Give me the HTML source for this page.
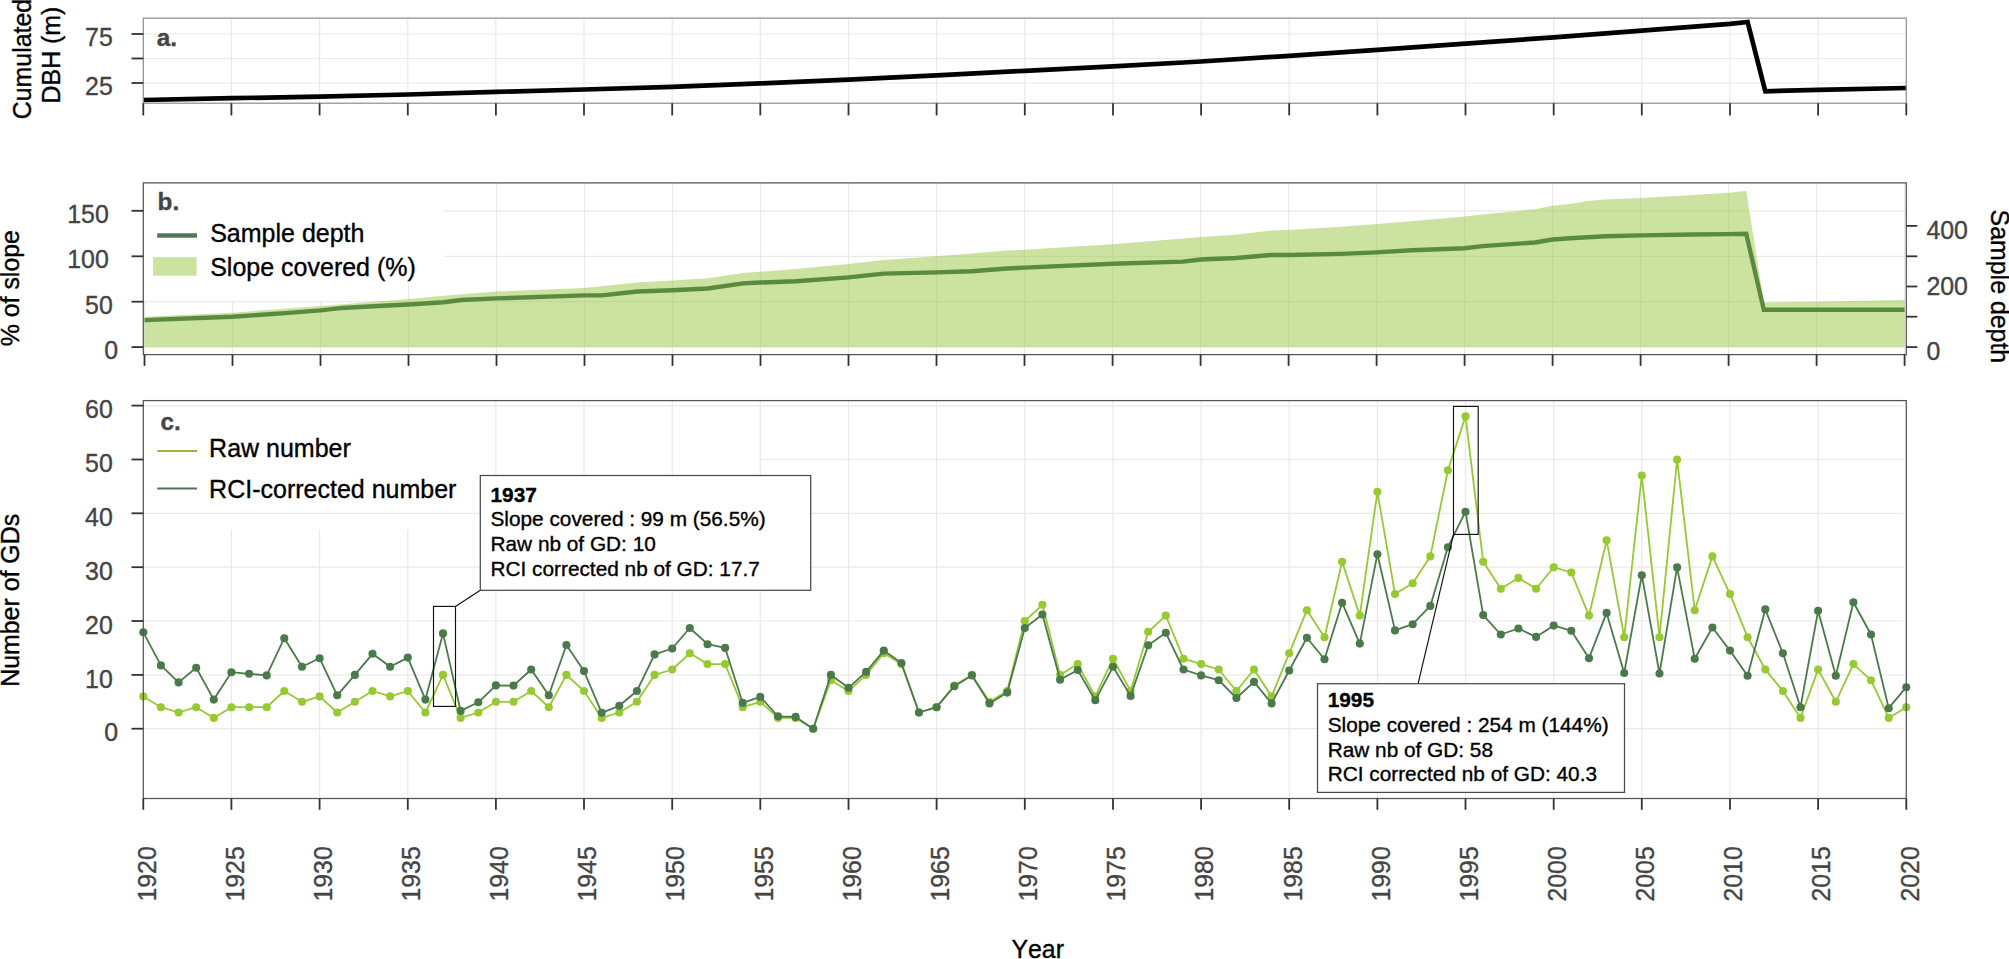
<!DOCTYPE html>
<html lang="en"><head><meta charset="utf-8"><title>Growth disturbances chart</title>
<style>html,body{margin:0;padding:0;background:#fff}svg{display:block}text{font-family:"Liberation Sans",Arial,Helvetica,sans-serif;font-size:24.9px;stroke-width:0.35px;paint-order:stroke fill;font-kerning:none}.lg{font-size:25px}.co text{font-size:20.8px}.tk{font-size:24.9px}.bl{font-size:24.3px}</style>
</head><body>
<svg width="2009" height="959" viewBox="0 0 2009 959">
<rect width="2009" height="959" fill="#fff"/>
<g id="panel-a">
<line x1="143.3" y1="34.0" x2="1906.3" y2="34.0" stroke="#e9e9e9" stroke-width="1.2"/>
<line x1="143.3" y1="58.5" x2="1906.3" y2="58.5" stroke="#e9e9e9" stroke-width="1.2"/>
<line x1="143.3" y1="83.0" x2="1906.3" y2="83.0" stroke="#e9e9e9" stroke-width="1.2"/>
<line x1="231.4" y1="18.1" x2="231.4" y2="103.2" stroke="#e9e9e9" stroke-width="1.2"/>
<line x1="319.6" y1="18.1" x2="319.6" y2="103.2" stroke="#e9e9e9" stroke-width="1.2"/>
<line x1="407.8" y1="18.1" x2="407.8" y2="103.2" stroke="#e9e9e9" stroke-width="1.2"/>
<line x1="495.9" y1="18.1" x2="495.9" y2="103.2" stroke="#e9e9e9" stroke-width="1.2"/>
<line x1="584.0" y1="18.1" x2="584.0" y2="103.2" stroke="#e9e9e9" stroke-width="1.2"/>
<line x1="672.2" y1="18.1" x2="672.2" y2="103.2" stroke="#e9e9e9" stroke-width="1.2"/>
<line x1="760.3" y1="18.1" x2="760.3" y2="103.2" stroke="#e9e9e9" stroke-width="1.2"/>
<line x1="848.5" y1="18.1" x2="848.5" y2="103.2" stroke="#e9e9e9" stroke-width="1.2"/>
<line x1="936.6" y1="18.1" x2="936.6" y2="103.2" stroke="#e9e9e9" stroke-width="1.2"/>
<line x1="1024.8" y1="18.1" x2="1024.8" y2="103.2" stroke="#e9e9e9" stroke-width="1.2"/>
<line x1="1113.0" y1="18.1" x2="1113.0" y2="103.2" stroke="#e9e9e9" stroke-width="1.2"/>
<line x1="1201.1" y1="18.1" x2="1201.1" y2="103.2" stroke="#e9e9e9" stroke-width="1.2"/>
<line x1="1289.2" y1="18.1" x2="1289.2" y2="103.2" stroke="#e9e9e9" stroke-width="1.2"/>
<line x1="1377.4" y1="18.1" x2="1377.4" y2="103.2" stroke="#e9e9e9" stroke-width="1.2"/>
<line x1="1465.5" y1="18.1" x2="1465.5" y2="103.2" stroke="#e9e9e9" stroke-width="1.2"/>
<line x1="1553.7" y1="18.1" x2="1553.7" y2="103.2" stroke="#e9e9e9" stroke-width="1.2"/>
<line x1="1641.8" y1="18.1" x2="1641.8" y2="103.2" stroke="#e9e9e9" stroke-width="1.2"/>
<line x1="1730.0" y1="18.1" x2="1730.0" y2="103.2" stroke="#e9e9e9" stroke-width="1.2"/>
<line x1="1818.1" y1="18.1" x2="1818.1" y2="103.2" stroke="#e9e9e9" stroke-width="1.2"/>
<polyline points="143.3,100.0 231.4,98.2 319.6,96.6 407.8,94.5 495.9,91.9 584.0,89.5 672.2,86.9 760.3,83.4 848.5,79.6 936.6,75.3 1024.8,70.8 1113.0,66.3 1201.1,61.5 1289.2,55.8 1377.4,49.8 1465.5,43.6 1553.7,37.3 1641.8,30.7 1730.0,23.8 1747.6,22.0 1765.3,91.3 1818.1,89.8 1906.3,88.0" fill="none" stroke="#000" stroke-width="4.7" stroke-linejoin="miter"/>
<rect x="143.3" y="18.1" width="1763.0" height="85.1" fill="none" stroke="#8c8c8c" stroke-width="1.2"/>
<line x1="131.5" y1="34.0" x2="143.3" y2="34.0" stroke="#333" stroke-width="1.8"/>
<line x1="131.5" y1="58.5" x2="143.3" y2="58.5" stroke="#333" stroke-width="1.8"/>
<line x1="131.5" y1="83.0" x2="143.3" y2="83.0" stroke="#333" stroke-width="1.8"/>
<line x1="143.3" y1="103.2" x2="143.3" y2="115.4" stroke="#333" stroke-width="1.8"/>
<line x1="231.4" y1="103.2" x2="231.4" y2="115.4" stroke="#333" stroke-width="1.8"/>
<line x1="319.6" y1="103.2" x2="319.6" y2="115.4" stroke="#333" stroke-width="1.8"/>
<line x1="407.8" y1="103.2" x2="407.8" y2="115.4" stroke="#333" stroke-width="1.8"/>
<line x1="495.9" y1="103.2" x2="495.9" y2="115.4" stroke="#333" stroke-width="1.8"/>
<line x1="584.0" y1="103.2" x2="584.0" y2="115.4" stroke="#333" stroke-width="1.8"/>
<line x1="672.2" y1="103.2" x2="672.2" y2="115.4" stroke="#333" stroke-width="1.8"/>
<line x1="760.3" y1="103.2" x2="760.3" y2="115.4" stroke="#333" stroke-width="1.8"/>
<line x1="848.5" y1="103.2" x2="848.5" y2="115.4" stroke="#333" stroke-width="1.8"/>
<line x1="936.6" y1="103.2" x2="936.6" y2="115.4" stroke="#333" stroke-width="1.8"/>
<line x1="1024.8" y1="103.2" x2="1024.8" y2="115.4" stroke="#333" stroke-width="1.8"/>
<line x1="1113.0" y1="103.2" x2="1113.0" y2="115.4" stroke="#333" stroke-width="1.8"/>
<line x1="1201.1" y1="103.2" x2="1201.1" y2="115.4" stroke="#333" stroke-width="1.8"/>
<line x1="1289.2" y1="103.2" x2="1289.2" y2="115.4" stroke="#333" stroke-width="1.8"/>
<line x1="1377.4" y1="103.2" x2="1377.4" y2="115.4" stroke="#333" stroke-width="1.8"/>
<line x1="1465.5" y1="103.2" x2="1465.5" y2="115.4" stroke="#333" stroke-width="1.8"/>
<line x1="1553.7" y1="103.2" x2="1553.7" y2="115.4" stroke="#333" stroke-width="1.8"/>
<line x1="1641.8" y1="103.2" x2="1641.8" y2="115.4" stroke="#333" stroke-width="1.8"/>
<line x1="1730.0" y1="103.2" x2="1730.0" y2="115.4" stroke="#333" stroke-width="1.8"/>
<line x1="1818.1" y1="103.2" x2="1818.1" y2="115.4" stroke="#333" stroke-width="1.8"/>
<line x1="1906.3" y1="103.2" x2="1906.3" y2="115.4" stroke="#333" stroke-width="1.8"/>
<text class="tk" x="112.8" y="46.2" text-anchor="end" fill="#444" stroke="#444">75</text>
<text class="tk" x="112.8" y="95.2" text-anchor="end" fill="#444" stroke="#444">25</text>
<text class="bl" x="156.8" y="45.5" font-weight="bold" fill="#454545" stroke="#454545">a.</text>
<text transform="translate(30.9,119.2) rotate(-90)" fill="#000" stroke="#000">Cumulated</text>
<text transform="translate(60.3,103.4) rotate(-90)" fill="#000" stroke="#000">DBH (m)</text>
</g>
<g id="panel-b">
<line x1="143.3" y1="210.8" x2="1906.3" y2="210.8" stroke="#e9e9e9" stroke-width="1.2"/>
<line x1="143.3" y1="256.3" x2="1906.3" y2="256.3" stroke="#e9e9e9" stroke-width="1.2"/>
<line x1="143.3" y1="301.7" x2="1906.3" y2="301.7" stroke="#e9e9e9" stroke-width="1.2"/>
<line x1="143.3" y1="347.1" x2="1906.3" y2="347.1" stroke="#e9e9e9" stroke-width="1.2"/>
<line x1="144.5" y1="182.9" x2="144.5" y2="354.6" stroke="#e9e9e9" stroke-width="1.2"/>
<line x1="232.5" y1="182.9" x2="232.5" y2="354.6" stroke="#e9e9e9" stroke-width="1.2"/>
<line x1="320.5" y1="182.9" x2="320.5" y2="354.6" stroke="#e9e9e9" stroke-width="1.2"/>
<line x1="408.5" y1="182.9" x2="408.5" y2="354.6" stroke="#e9e9e9" stroke-width="1.2"/>
<line x1="496.5" y1="182.9" x2="496.5" y2="354.6" stroke="#e9e9e9" stroke-width="1.2"/>
<line x1="584.5" y1="182.9" x2="584.5" y2="354.6" stroke="#e9e9e9" stroke-width="1.2"/>
<line x1="672.5" y1="182.9" x2="672.5" y2="354.6" stroke="#e9e9e9" stroke-width="1.2"/>
<line x1="760.5" y1="182.9" x2="760.5" y2="354.6" stroke="#e9e9e9" stroke-width="1.2"/>
<line x1="848.5" y1="182.9" x2="848.5" y2="354.6" stroke="#e9e9e9" stroke-width="1.2"/>
<line x1="936.5" y1="182.9" x2="936.5" y2="354.6" stroke="#e9e9e9" stroke-width="1.2"/>
<line x1="1024.5" y1="182.9" x2="1024.5" y2="354.6" stroke="#e9e9e9" stroke-width="1.2"/>
<line x1="1112.6" y1="182.9" x2="1112.6" y2="354.6" stroke="#e9e9e9" stroke-width="1.2"/>
<line x1="1200.6" y1="182.9" x2="1200.6" y2="354.6" stroke="#e9e9e9" stroke-width="1.2"/>
<line x1="1288.6" y1="182.9" x2="1288.6" y2="354.6" stroke="#e9e9e9" stroke-width="1.2"/>
<line x1="1376.6" y1="182.9" x2="1376.6" y2="354.6" stroke="#e9e9e9" stroke-width="1.2"/>
<line x1="1464.6" y1="182.9" x2="1464.6" y2="354.6" stroke="#e9e9e9" stroke-width="1.2"/>
<line x1="1552.6" y1="182.9" x2="1552.6" y2="354.6" stroke="#e9e9e9" stroke-width="1.2"/>
<line x1="1640.6" y1="182.9" x2="1640.6" y2="354.6" stroke="#e9e9e9" stroke-width="1.2"/>
<line x1="1728.6" y1="182.9" x2="1728.6" y2="354.6" stroke="#e9e9e9" stroke-width="1.2"/>
<line x1="1816.6" y1="182.9" x2="1816.6" y2="354.6" stroke="#e9e9e9" stroke-width="1.2"/>
<line x1="1904.6" y1="182.9" x2="1904.6" y2="354.6" stroke="#e9e9e9" stroke-width="1.2"/>
<polygon points="144.5,347.1 144.5,316.8 232.5,312.8 320.5,305.9 408.5,299.0 443.7,295.8 496.5,291.5 584.5,288.0 637.3,282.5 672.5,280.6 707.7,278.3 742.9,273.0 760.5,271.8 795.7,269.1 848.5,264.0 883.7,260.1 936.5,256.2 971.7,253.6 1006.9,250.6 1024.5,249.7 1112.6,244.3 1183.0,238.6 1200.6,237.1 1235.8,234.7 1271.0,230.6 1288.6,230.0 1341.4,226.7 1376.6,224.0 1411.8,221.3 1464.6,216.5 1482.2,214.4 1535.0,209.3 1552.6,205.7 1570.2,204.0 1587.8,201.0 1605.4,199.4 1640.6,197.9 1693.4,195.1 1728.6,192.7 1746.2,191.0 1763.8,302.4 1816.6,301.7 1904.6,300.0 1904.6,347.1" fill="#97c544" fill-opacity="0.5"/>
<rect x="143.3" y="182.9" width="300.7" height="101.6" fill="#fff"/>
<rect x="143.3" y="284" width="236.7" height="17" fill="#fff"/>
<polyline points="144.5,320.1 232.5,316.7 285.3,313.1 320.5,310.4 339.9,308.1 355.7,307.2 373.3,306.3 408.5,304.5 443.7,302.2 461.3,300.0 496.5,298.4 584.5,295.4 602.1,295.4 637.3,291.5 672.5,290.3 707.7,288.5 742.9,283.4 760.5,282.5 795.7,281.3 848.5,277.4 883.7,273.6 936.5,272.4 971.7,271.2 1006.9,268.5 1024.5,267.6 1112.6,263.7 1183.0,261.6 1200.6,259.5 1235.8,258.0 1271.0,255.0 1288.6,255.0 1341.4,253.9 1376.6,252.4 1411.8,250.3 1464.6,248.2 1482.2,246.1 1535.0,242.5 1552.6,239.5 1570.2,238.3 1605.4,236.3 1640.6,235.4 1693.4,234.5 1728.6,234.1 1746.2,233.8 1763.8,309.7 1904.6,309.7" fill="none" stroke="#5a8a40" stroke-width="4.4" stroke-linejoin="miter"/>
<rect x="143.3" y="182.9" width="1763.0" height="171.7" fill="none" stroke="#555" stroke-width="1.25"/>
<line x1="131.5" y1="210.8" x2="143.3" y2="210.8" stroke="#333" stroke-width="1.8"/>
<line x1="131.5" y1="256.3" x2="143.3" y2="256.3" stroke="#333" stroke-width="1.8"/>
<line x1="131.5" y1="301.7" x2="143.3" y2="301.7" stroke="#333" stroke-width="1.8"/>
<line x1="131.5" y1="347.1" x2="143.3" y2="347.1" stroke="#333" stroke-width="1.8"/>
<line x1="144.5" y1="354.6" x2="144.5" y2="365.9" stroke="#333" stroke-width="1.8"/>
<line x1="232.5" y1="354.6" x2="232.5" y2="365.9" stroke="#333" stroke-width="1.8"/>
<line x1="320.5" y1="354.6" x2="320.5" y2="365.9" stroke="#333" stroke-width="1.8"/>
<line x1="408.5" y1="354.6" x2="408.5" y2="365.9" stroke="#333" stroke-width="1.8"/>
<line x1="496.5" y1="354.6" x2="496.5" y2="365.9" stroke="#333" stroke-width="1.8"/>
<line x1="584.5" y1="354.6" x2="584.5" y2="365.9" stroke="#333" stroke-width="1.8"/>
<line x1="672.5" y1="354.6" x2="672.5" y2="365.9" stroke="#333" stroke-width="1.8"/>
<line x1="760.5" y1="354.6" x2="760.5" y2="365.9" stroke="#333" stroke-width="1.8"/>
<line x1="848.5" y1="354.6" x2="848.5" y2="365.9" stroke="#333" stroke-width="1.8"/>
<line x1="936.5" y1="354.6" x2="936.5" y2="365.9" stroke="#333" stroke-width="1.8"/>
<line x1="1024.5" y1="354.6" x2="1024.5" y2="365.9" stroke="#333" stroke-width="1.8"/>
<line x1="1112.6" y1="354.6" x2="1112.6" y2="365.9" stroke="#333" stroke-width="1.8"/>
<line x1="1200.6" y1="354.6" x2="1200.6" y2="365.9" stroke="#333" stroke-width="1.8"/>
<line x1="1288.6" y1="354.6" x2="1288.6" y2="365.9" stroke="#333" stroke-width="1.8"/>
<line x1="1376.6" y1="354.6" x2="1376.6" y2="365.9" stroke="#333" stroke-width="1.8"/>
<line x1="1464.6" y1="354.6" x2="1464.6" y2="365.9" stroke="#333" stroke-width="1.8"/>
<line x1="1552.6" y1="354.6" x2="1552.6" y2="365.9" stroke="#333" stroke-width="1.8"/>
<line x1="1640.6" y1="354.6" x2="1640.6" y2="365.9" stroke="#333" stroke-width="1.8"/>
<line x1="1728.6" y1="354.6" x2="1728.6" y2="365.9" stroke="#333" stroke-width="1.8"/>
<line x1="1816.6" y1="354.6" x2="1816.6" y2="365.9" stroke="#333" stroke-width="1.8"/>
<line x1="1904.6" y1="354.6" x2="1904.6" y2="365.9" stroke="#333" stroke-width="1.8"/>
<text class="tk" x="108.8" y="222.9" text-anchor="end" fill="#444" stroke="#444">150</text>
<text class="tk" x="108.8" y="268.4" text-anchor="end" fill="#444" stroke="#444">100</text>
<text class="tk" x="112.8" y="313.8" text-anchor="end" fill="#444" stroke="#444">50</text>
<text class="tk" x="118.0" y="359.2" text-anchor="end" fill="#444" stroke="#444">0</text>
<line x1="1906.3" y1="225.9" x2="1917.3" y2="225.9" stroke="#333" stroke-width="1.8"/>
<line x1="1906.3" y1="256.3" x2="1917.3" y2="256.3" stroke="#333" stroke-width="1.8"/>
<line x1="1906.3" y1="286.5" x2="1917.3" y2="286.5" stroke="#333" stroke-width="1.8"/>
<line x1="1906.3" y1="316.7" x2="1917.3" y2="316.7" stroke="#333" stroke-width="1.8"/>
<line x1="1906.3" y1="347.1" x2="1917.3" y2="347.1" stroke="#333" stroke-width="1.8"/>
<text class="tk" x="1926.4" y="238.6" fill="#444" stroke="#444">400</text>
<text class="tk" x="1926.4" y="295.0" fill="#444" stroke="#444">200</text>
<text class="tk" x="1926.4" y="359.6" fill="#444" stroke="#444">0</text>
<text transform="translate(1990.6,209.6) rotate(90)" fill="#000" stroke="#000">Sample depth</text>
<text class="bl" x="157.6" y="209.7" font-weight="bold" fill="#454545" stroke="#454545">b.</text>
<line x1="157.2" y1="235.4" x2="197" y2="235.4" stroke="#4f7a58" stroke-width="4.5"/>
<text class="lg" x="210.2" y="241.8" fill="#000" stroke="#000">Sample depth</text>
<rect x="153.1" y="257.2" width="43.5" height="18.5" fill="#97c544" fill-opacity="0.5"/>
<text class="lg" x="210.2" y="275.8" fill="#000" stroke="#000">Slope covered (%)</text>
<text transform="translate(19.4,346.3) rotate(-90)" fill="#000" stroke="#000">% of slope</text>
</g>
<g id="panel-c">
<line x1="231.4" y1="400.6" x2="231.4" y2="798.5" stroke="#e9e9e9" stroke-width="1.2"/>
<line x1="319.6" y1="400.6" x2="319.6" y2="798.5" stroke="#e9e9e9" stroke-width="1.2"/>
<line x1="407.8" y1="400.6" x2="407.8" y2="798.5" stroke="#e9e9e9" stroke-width="1.2"/>
<line x1="495.9" y1="400.6" x2="495.9" y2="798.5" stroke="#e9e9e9" stroke-width="1.2"/>
<line x1="584.0" y1="400.6" x2="584.0" y2="798.5" stroke="#e9e9e9" stroke-width="1.2"/>
<line x1="672.2" y1="400.6" x2="672.2" y2="798.5" stroke="#e9e9e9" stroke-width="1.2"/>
<line x1="760.3" y1="400.6" x2="760.3" y2="798.5" stroke="#e9e9e9" stroke-width="1.2"/>
<line x1="848.5" y1="400.6" x2="848.5" y2="798.5" stroke="#e9e9e9" stroke-width="1.2"/>
<line x1="936.6" y1="400.6" x2="936.6" y2="798.5" stroke="#e9e9e9" stroke-width="1.2"/>
<line x1="1024.8" y1="400.6" x2="1024.8" y2="798.5" stroke="#e9e9e9" stroke-width="1.2"/>
<line x1="1113.0" y1="400.6" x2="1113.0" y2="798.5" stroke="#e9e9e9" stroke-width="1.2"/>
<line x1="1201.1" y1="400.6" x2="1201.1" y2="798.5" stroke="#e9e9e9" stroke-width="1.2"/>
<line x1="1289.2" y1="400.6" x2="1289.2" y2="798.5" stroke="#e9e9e9" stroke-width="1.2"/>
<line x1="1377.4" y1="400.6" x2="1377.4" y2="798.5" stroke="#e9e9e9" stroke-width="1.2"/>
<line x1="1465.5" y1="400.6" x2="1465.5" y2="798.5" stroke="#e9e9e9" stroke-width="1.2"/>
<line x1="1553.7" y1="400.6" x2="1553.7" y2="798.5" stroke="#e9e9e9" stroke-width="1.2"/>
<line x1="1641.8" y1="400.6" x2="1641.8" y2="798.5" stroke="#e9e9e9" stroke-width="1.2"/>
<line x1="1730.0" y1="400.6" x2="1730.0" y2="798.5" stroke="#e9e9e9" stroke-width="1.2"/>
<line x1="1818.1" y1="400.6" x2="1818.1" y2="798.5" stroke="#e9e9e9" stroke-width="1.2"/>
<rect x="143.3" y="400.6" width="326.7" height="128.9" fill="#fff"/>
<line x1="143.3" y1="405.6" x2="1903.3" y2="405.6" stroke="#e9e9e9" stroke-width="1.2"/>
<line x1="143.3" y1="513.3" x2="1903.3" y2="513.3" stroke="#e9e9e9" stroke-width="1.2"/>
<line x1="143.3" y1="567.2" x2="1903.3" y2="567.2" stroke="#e9e9e9" stroke-width="1.2"/>
<line x1="143.3" y1="621.0" x2="1903.3" y2="621.0" stroke="#e9e9e9" stroke-width="1.2"/>
<line x1="143.3" y1="674.9" x2="1903.3" y2="674.9" stroke="#e9e9e9" stroke-width="1.2"/>
<line x1="143.3" y1="728.7" x2="1903.3" y2="728.7" stroke="#e9e9e9" stroke-width="1.2"/>
<line x1="760.5" y1="459.5" x2="1903.3" y2="459.5" stroke="#e9e9e9" stroke-width="1.2"/>
<polyline points="143.3,696.4 160.9,707.2 178.6,712.5 196.2,707.2 213.8,717.9 231.4,707.2 249.1,707.2 266.7,707.2 284.3,691.0 302.0,701.8 319.6,696.4 337.2,712.5 354.9,701.8 372.5,691.0 390.1,696.4 407.8,691.0 425.4,712.5 443.0,674.9 460.6,717.9 478.3,712.5 495.9,701.8 513.5,701.8 531.2,691.0 548.8,707.2 566.4,674.9 584.0,691.0 601.7,717.9 619.3,712.5 636.9,701.8 654.6,674.9 672.2,669.5 689.8,653.3 707.5,664.1 725.1,664.1 742.7,707.2 760.3,701.8 778.0,717.9 795.6,717.9 813.2,728.7 830.9,680.2 848.5,691.0 866.1,674.9 883.8,653.3 901.4,664.1 919.0,712.5 936.6,707.2 954.3,685.6 971.9,674.9 989.5,701.8 1007.2,691.0 1024.8,621.0 1042.4,604.8 1060.1,674.9 1077.7,664.1 1095.3,696.4 1113.0,658.7 1130.6,691.0 1148.2,631.8 1165.8,615.6 1183.5,658.7 1201.1,664.1 1218.7,669.5 1236.4,691.0 1254.0,669.5 1271.6,696.4 1289.2,653.3 1306.9,610.2 1324.5,637.2 1342.1,561.8 1359.8,615.6 1377.4,491.8 1395.0,594.1 1412.7,583.3 1430.3,556.4 1447.9,470.2 1465.5,416.4 1483.2,561.8 1500.8,588.7 1518.4,577.9 1536.1,588.7 1553.7,567.2 1571.3,572.5 1589.0,615.6 1606.6,540.2 1624.2,637.2 1641.8,475.6 1659.5,637.2 1677.1,459.5 1694.7,610.2 1712.4,556.4 1730.0,594.1 1747.6,637.2 1765.3,669.5 1782.9,691.0 1800.5,717.9 1818.1,669.5 1835.8,701.8 1853.4,664.1 1871.0,680.2 1888.7,717.9 1906.3,707.2" fill="none" stroke="#96c932" stroke-width="1.8" stroke-linejoin="round"/>
<g fill="#96c932">
<circle cx="143.3" cy="696.4" r="4.05"/>
<circle cx="160.9" cy="707.2" r="4.05"/>
<circle cx="178.6" cy="712.5" r="4.05"/>
<circle cx="196.2" cy="707.2" r="4.05"/>
<circle cx="213.8" cy="717.9" r="4.05"/>
<circle cx="231.4" cy="707.2" r="4.05"/>
<circle cx="249.1" cy="707.2" r="4.05"/>
<circle cx="266.7" cy="707.2" r="4.05"/>
<circle cx="284.3" cy="691.0" r="4.05"/>
<circle cx="302.0" cy="701.8" r="4.05"/>
<circle cx="319.6" cy="696.4" r="4.05"/>
<circle cx="337.2" cy="712.5" r="4.05"/>
<circle cx="354.9" cy="701.8" r="4.05"/>
<circle cx="372.5" cy="691.0" r="4.05"/>
<circle cx="390.1" cy="696.4" r="4.05"/>
<circle cx="407.8" cy="691.0" r="4.05"/>
<circle cx="425.4" cy="712.5" r="4.05"/>
<circle cx="443.0" cy="674.9" r="4.05"/>
<circle cx="460.6" cy="717.9" r="4.05"/>
<circle cx="478.3" cy="712.5" r="4.05"/>
<circle cx="495.9" cy="701.8" r="4.05"/>
<circle cx="513.5" cy="701.8" r="4.05"/>
<circle cx="531.2" cy="691.0" r="4.05"/>
<circle cx="548.8" cy="707.2" r="4.05"/>
<circle cx="566.4" cy="674.9" r="4.05"/>
<circle cx="584.0" cy="691.0" r="4.05"/>
<circle cx="601.7" cy="717.9" r="4.05"/>
<circle cx="619.3" cy="712.5" r="4.05"/>
<circle cx="636.9" cy="701.8" r="4.05"/>
<circle cx="654.6" cy="674.9" r="4.05"/>
<circle cx="672.2" cy="669.5" r="4.05"/>
<circle cx="689.8" cy="653.3" r="4.05"/>
<circle cx="707.5" cy="664.1" r="4.05"/>
<circle cx="725.1" cy="664.1" r="4.05"/>
<circle cx="742.7" cy="707.2" r="4.05"/>
<circle cx="760.3" cy="701.8" r="4.05"/>
<circle cx="778.0" cy="717.9" r="4.05"/>
<circle cx="795.6" cy="717.9" r="4.05"/>
<circle cx="813.2" cy="728.7" r="4.05"/>
<circle cx="830.9" cy="680.2" r="4.05"/>
<circle cx="848.5" cy="691.0" r="4.05"/>
<circle cx="866.1" cy="674.9" r="4.05"/>
<circle cx="883.8" cy="653.3" r="4.05"/>
<circle cx="901.4" cy="664.1" r="4.05"/>
<circle cx="919.0" cy="712.5" r="4.05"/>
<circle cx="936.6" cy="707.2" r="4.05"/>
<circle cx="954.3" cy="685.6" r="4.05"/>
<circle cx="971.9" cy="674.9" r="4.05"/>
<circle cx="989.5" cy="701.8" r="4.05"/>
<circle cx="1007.2" cy="691.0" r="4.05"/>
<circle cx="1024.8" cy="621.0" r="4.05"/>
<circle cx="1042.4" cy="604.8" r="4.05"/>
<circle cx="1060.1" cy="674.9" r="4.05"/>
<circle cx="1077.7" cy="664.1" r="4.05"/>
<circle cx="1095.3" cy="696.4" r="4.05"/>
<circle cx="1113.0" cy="658.7" r="4.05"/>
<circle cx="1130.6" cy="691.0" r="4.05"/>
<circle cx="1148.2" cy="631.8" r="4.05"/>
<circle cx="1165.8" cy="615.6" r="4.05"/>
<circle cx="1183.5" cy="658.7" r="4.05"/>
<circle cx="1201.1" cy="664.1" r="4.05"/>
<circle cx="1218.7" cy="669.5" r="4.05"/>
<circle cx="1236.4" cy="691.0" r="4.05"/>
<circle cx="1254.0" cy="669.5" r="4.05"/>
<circle cx="1271.6" cy="696.4" r="4.05"/>
<circle cx="1289.2" cy="653.3" r="4.05"/>
<circle cx="1306.9" cy="610.2" r="4.05"/>
<circle cx="1324.5" cy="637.2" r="4.05"/>
<circle cx="1342.1" cy="561.8" r="4.05"/>
<circle cx="1359.8" cy="615.6" r="4.05"/>
<circle cx="1377.4" cy="491.8" r="4.05"/>
<circle cx="1395.0" cy="594.1" r="4.05"/>
<circle cx="1412.7" cy="583.3" r="4.05"/>
<circle cx="1430.3" cy="556.4" r="4.05"/>
<circle cx="1447.9" cy="470.2" r="4.05"/>
<circle cx="1465.5" cy="416.4" r="4.05"/>
<circle cx="1483.2" cy="561.8" r="4.05"/>
<circle cx="1500.8" cy="588.7" r="4.05"/>
<circle cx="1518.4" cy="577.9" r="4.05"/>
<circle cx="1536.1" cy="588.7" r="4.05"/>
<circle cx="1553.7" cy="567.2" r="4.05"/>
<circle cx="1571.3" cy="572.5" r="4.05"/>
<circle cx="1589.0" cy="615.6" r="4.05"/>
<circle cx="1606.6" cy="540.2" r="4.05"/>
<circle cx="1624.2" cy="637.2" r="4.05"/>
<circle cx="1641.8" cy="475.6" r="4.05"/>
<circle cx="1659.5" cy="637.2" r="4.05"/>
<circle cx="1677.1" cy="459.5" r="4.05"/>
<circle cx="1694.7" cy="610.2" r="4.05"/>
<circle cx="1712.4" cy="556.4" r="4.05"/>
<circle cx="1730.0" cy="594.1" r="4.05"/>
<circle cx="1747.6" cy="637.2" r="4.05"/>
<circle cx="1765.3" cy="669.5" r="4.05"/>
<circle cx="1782.9" cy="691.0" r="4.05"/>
<circle cx="1800.5" cy="717.9" r="4.05"/>
<circle cx="1818.1" cy="669.5" r="4.05"/>
<circle cx="1835.8" cy="701.8" r="4.05"/>
<circle cx="1853.4" cy="664.1" r="4.05"/>
<circle cx="1871.0" cy="680.2" r="4.05"/>
<circle cx="1888.7" cy="717.9" r="4.05"/>
<circle cx="1906.3" cy="707.2" r="4.05"/>
</g>
<polyline points="143.3,632.3 160.9,665.4 178.6,682.4 196.2,667.8 213.8,699.6 231.4,672.2 249.1,673.8 266.7,675.4 284.3,638.2 302.0,666.8 319.6,658.2 337.2,695.3 354.9,674.9 372.5,653.8 390.1,666.8 407.8,657.6 425.4,699.6 443.0,633.4 460.6,710.9 478.3,702.3 495.9,685.4 513.5,685.6 531.2,669.5 548.8,695.3 566.4,645.0 584.0,671.1 601.7,712.8 619.3,705.8 636.9,691.0 654.6,654.4 672.2,648.5 689.8,628.0 707.5,644.2 725.1,647.9 742.7,702.9 760.3,696.9 778.0,716.3 795.6,716.9 813.2,728.7 830.9,674.9 848.5,687.8 866.1,671.9 883.8,650.6 901.4,663.0 919.0,712.5 936.6,707.2 954.3,686.2 971.9,675.4 989.5,703.4 1007.2,692.6 1024.8,628.0 1042.4,614.5 1060.1,679.7 1077.7,670.0 1095.3,700.2 1113.0,666.8 1130.6,695.9 1148.2,645.2 1165.8,632.8 1183.5,669.5 1201.1,675.4 1218.7,680.2 1236.4,698.0 1254.0,681.9 1271.6,703.4 1289.2,670.5 1306.9,637.7 1324.5,659.2 1342.1,602.7 1359.8,643.6 1377.4,554.2 1395.0,630.4 1412.7,624.2 1430.3,605.9 1447.9,547.2 1465.5,511.7 1483.2,615.1 1500.8,634.5 1518.4,628.5 1536.1,636.9 1553.7,625.6 1571.3,630.7 1589.0,658.2 1606.6,612.9 1624.2,673.0 1641.8,575.2 1659.5,673.5 1677.1,567.4 1694.7,658.7 1712.4,627.5 1730.0,650.6 1747.6,675.7 1765.3,609.4 1782.9,653.3 1800.5,707.2 1818.1,610.8 1835.8,675.7 1853.4,602.2 1871.0,634.5 1888.7,708.2 1906.3,687.2" fill="none" stroke="#4a7a4a" stroke-width="1.8" stroke-linejoin="round"/>
<g fill="#4a7a4a">
<circle cx="143.3" cy="632.3" r="4.05"/>
<circle cx="160.9" cy="665.4" r="4.05"/>
<circle cx="178.6" cy="682.4" r="4.05"/>
<circle cx="196.2" cy="667.8" r="4.05"/>
<circle cx="213.8" cy="699.6" r="4.05"/>
<circle cx="231.4" cy="672.2" r="4.05"/>
<circle cx="249.1" cy="673.8" r="4.05"/>
<circle cx="266.7" cy="675.4" r="4.05"/>
<circle cx="284.3" cy="638.2" r="4.05"/>
<circle cx="302.0" cy="666.8" r="4.05"/>
<circle cx="319.6" cy="658.2" r="4.05"/>
<circle cx="337.2" cy="695.3" r="4.05"/>
<circle cx="354.9" cy="674.9" r="4.05"/>
<circle cx="372.5" cy="653.8" r="4.05"/>
<circle cx="390.1" cy="666.8" r="4.05"/>
<circle cx="407.8" cy="657.6" r="4.05"/>
<circle cx="425.4" cy="699.6" r="4.05"/>
<circle cx="443.0" cy="633.4" r="4.05"/>
<circle cx="460.6" cy="710.9" r="4.05"/>
<circle cx="478.3" cy="702.3" r="4.05"/>
<circle cx="495.9" cy="685.4" r="4.05"/>
<circle cx="513.5" cy="685.6" r="4.05"/>
<circle cx="531.2" cy="669.5" r="4.05"/>
<circle cx="548.8" cy="695.3" r="4.05"/>
<circle cx="566.4" cy="645.0" r="4.05"/>
<circle cx="584.0" cy="671.1" r="4.05"/>
<circle cx="601.7" cy="712.8" r="4.05"/>
<circle cx="619.3" cy="705.8" r="4.05"/>
<circle cx="636.9" cy="691.0" r="4.05"/>
<circle cx="654.6" cy="654.4" r="4.05"/>
<circle cx="672.2" cy="648.5" r="4.05"/>
<circle cx="689.8" cy="628.0" r="4.05"/>
<circle cx="707.5" cy="644.2" r="4.05"/>
<circle cx="725.1" cy="647.9" r="4.05"/>
<circle cx="742.7" cy="702.9" r="4.05"/>
<circle cx="760.3" cy="696.9" r="4.05"/>
<circle cx="778.0" cy="716.3" r="4.05"/>
<circle cx="795.6" cy="716.9" r="4.05"/>
<circle cx="813.2" cy="728.7" r="4.05"/>
<circle cx="830.9" cy="674.9" r="4.05"/>
<circle cx="848.5" cy="687.8" r="4.05"/>
<circle cx="866.1" cy="671.9" r="4.05"/>
<circle cx="883.8" cy="650.6" r="4.05"/>
<circle cx="901.4" cy="663.0" r="4.05"/>
<circle cx="919.0" cy="712.5" r="4.05"/>
<circle cx="936.6" cy="707.2" r="4.05"/>
<circle cx="954.3" cy="686.2" r="4.05"/>
<circle cx="971.9" cy="675.4" r="4.05"/>
<circle cx="989.5" cy="703.4" r="4.05"/>
<circle cx="1007.2" cy="692.6" r="4.05"/>
<circle cx="1024.8" cy="628.0" r="4.05"/>
<circle cx="1042.4" cy="614.5" r="4.05"/>
<circle cx="1060.1" cy="679.7" r="4.05"/>
<circle cx="1077.7" cy="670.0" r="4.05"/>
<circle cx="1095.3" cy="700.2" r="4.05"/>
<circle cx="1113.0" cy="666.8" r="4.05"/>
<circle cx="1130.6" cy="695.9" r="4.05"/>
<circle cx="1148.2" cy="645.2" r="4.05"/>
<circle cx="1165.8" cy="632.8" r="4.05"/>
<circle cx="1183.5" cy="669.5" r="4.05"/>
<circle cx="1201.1" cy="675.4" r="4.05"/>
<circle cx="1218.7" cy="680.2" r="4.05"/>
<circle cx="1236.4" cy="698.0" r="4.05"/>
<circle cx="1254.0" cy="681.9" r="4.05"/>
<circle cx="1271.6" cy="703.4" r="4.05"/>
<circle cx="1289.2" cy="670.5" r="4.05"/>
<circle cx="1306.9" cy="637.7" r="4.05"/>
<circle cx="1324.5" cy="659.2" r="4.05"/>
<circle cx="1342.1" cy="602.7" r="4.05"/>
<circle cx="1359.8" cy="643.6" r="4.05"/>
<circle cx="1377.4" cy="554.2" r="4.05"/>
<circle cx="1395.0" cy="630.4" r="4.05"/>
<circle cx="1412.7" cy="624.2" r="4.05"/>
<circle cx="1430.3" cy="605.9" r="4.05"/>
<circle cx="1447.9" cy="547.2" r="4.05"/>
<circle cx="1465.5" cy="511.7" r="4.05"/>
<circle cx="1483.2" cy="615.1" r="4.05"/>
<circle cx="1500.8" cy="634.5" r="4.05"/>
<circle cx="1518.4" cy="628.5" r="4.05"/>
<circle cx="1536.1" cy="636.9" r="4.05"/>
<circle cx="1553.7" cy="625.6" r="4.05"/>
<circle cx="1571.3" cy="630.7" r="4.05"/>
<circle cx="1589.0" cy="658.2" r="4.05"/>
<circle cx="1606.6" cy="612.9" r="4.05"/>
<circle cx="1624.2" cy="673.0" r="4.05"/>
<circle cx="1641.8" cy="575.2" r="4.05"/>
<circle cx="1659.5" cy="673.5" r="4.05"/>
<circle cx="1677.1" cy="567.4" r="4.05"/>
<circle cx="1694.7" cy="658.7" r="4.05"/>
<circle cx="1712.4" cy="627.5" r="4.05"/>
<circle cx="1730.0" cy="650.6" r="4.05"/>
<circle cx="1747.6" cy="675.7" r="4.05"/>
<circle cx="1765.3" cy="609.4" r="4.05"/>
<circle cx="1782.9" cy="653.3" r="4.05"/>
<circle cx="1800.5" cy="707.2" r="4.05"/>
<circle cx="1818.1" cy="610.8" r="4.05"/>
<circle cx="1835.8" cy="675.7" r="4.05"/>
<circle cx="1853.4" cy="602.2" r="4.05"/>
<circle cx="1871.0" cy="634.5" r="4.05"/>
<circle cx="1888.7" cy="708.2" r="4.05"/>
<circle cx="1906.3" cy="687.2" r="4.05"/>
</g>
<rect x="143.3" y="400.6" width="1763.0" height="397.9" fill="none" stroke="#555" stroke-width="1.25"/>
<line x1="131.5" y1="405.6" x2="143.3" y2="405.6" stroke="#333" stroke-width="1.8"/>
<line x1="131.5" y1="459.5" x2="143.3" y2="459.5" stroke="#333" stroke-width="1.8"/>
<line x1="131.5" y1="513.3" x2="143.3" y2="513.3" stroke="#333" stroke-width="1.8"/>
<line x1="131.5" y1="567.2" x2="143.3" y2="567.2" stroke="#333" stroke-width="1.8"/>
<line x1="131.5" y1="621.0" x2="143.3" y2="621.0" stroke="#333" stroke-width="1.8"/>
<line x1="131.5" y1="674.9" x2="143.3" y2="674.9" stroke="#333" stroke-width="1.8"/>
<line x1="131.5" y1="728.7" x2="143.3" y2="728.7" stroke="#333" stroke-width="1.8"/>
<line x1="143.3" y1="798.5" x2="143.3" y2="809.8" stroke="#333" stroke-width="1.8"/>
<line x1="231.4" y1="798.5" x2="231.4" y2="809.8" stroke="#333" stroke-width="1.8"/>
<line x1="319.6" y1="798.5" x2="319.6" y2="809.8" stroke="#333" stroke-width="1.8"/>
<line x1="407.8" y1="798.5" x2="407.8" y2="809.8" stroke="#333" stroke-width="1.8"/>
<line x1="495.9" y1="798.5" x2="495.9" y2="809.8" stroke="#333" stroke-width="1.8"/>
<line x1="584.0" y1="798.5" x2="584.0" y2="809.8" stroke="#333" stroke-width="1.8"/>
<line x1="672.2" y1="798.5" x2="672.2" y2="809.8" stroke="#333" stroke-width="1.8"/>
<line x1="760.3" y1="798.5" x2="760.3" y2="809.8" stroke="#333" stroke-width="1.8"/>
<line x1="848.5" y1="798.5" x2="848.5" y2="809.8" stroke="#333" stroke-width="1.8"/>
<line x1="936.6" y1="798.5" x2="936.6" y2="809.8" stroke="#333" stroke-width="1.8"/>
<line x1="1024.8" y1="798.5" x2="1024.8" y2="809.8" stroke="#333" stroke-width="1.8"/>
<line x1="1113.0" y1="798.5" x2="1113.0" y2="809.8" stroke="#333" stroke-width="1.8"/>
<line x1="1201.1" y1="798.5" x2="1201.1" y2="809.8" stroke="#333" stroke-width="1.8"/>
<line x1="1289.2" y1="798.5" x2="1289.2" y2="809.8" stroke="#333" stroke-width="1.8"/>
<line x1="1377.4" y1="798.5" x2="1377.4" y2="809.8" stroke="#333" stroke-width="1.8"/>
<line x1="1465.5" y1="798.5" x2="1465.5" y2="809.8" stroke="#333" stroke-width="1.8"/>
<line x1="1553.7" y1="798.5" x2="1553.7" y2="809.8" stroke="#333" stroke-width="1.8"/>
<line x1="1641.8" y1="798.5" x2="1641.8" y2="809.8" stroke="#333" stroke-width="1.8"/>
<line x1="1730.0" y1="798.5" x2="1730.0" y2="809.8" stroke="#333" stroke-width="1.8"/>
<line x1="1818.1" y1="798.5" x2="1818.1" y2="809.8" stroke="#333" stroke-width="1.8"/>
<line x1="1906.3" y1="798.5" x2="1906.3" y2="809.8" stroke="#333" stroke-width="1.8"/>
<text class="tk" x="112.8" y="418.3" text-anchor="end" fill="#444" stroke="#444">60</text>
<text class="tk" x="112.8" y="472.2" text-anchor="end" fill="#444" stroke="#444">50</text>
<text class="tk" x="112.8" y="526.0" text-anchor="end" fill="#444" stroke="#444">40</text>
<text class="tk" x="112.8" y="579.9" text-anchor="end" fill="#444" stroke="#444">30</text>
<text class="tk" x="112.8" y="633.7" text-anchor="end" fill="#444" stroke="#444">20</text>
<text class="tk" x="112.8" y="687.6" text-anchor="end" fill="#444" stroke="#444">10</text>
<text class="tk" x="118.0" y="741.4" text-anchor="end" fill="#444" stroke="#444">0</text>
<text class="bl" x="160.4" y="429.5" font-weight="bold" fill="#454545" stroke="#454545">c.</text>
<line x1="157.2" y1="450.9" x2="197" y2="450.9" stroke="#93b83c" stroke-width="2"/>
<text class="lg" x="209.1" y="456.8" fill="#000" stroke="#000">Raw number</text>
<line x1="157.2" y1="488.5" x2="197" y2="488.5" stroke="#55705a" stroke-width="2"/>
<text class="lg" x="209.1" y="498.4" fill="#000" stroke="#000">RCI-corrected number</text>
<text transform="translate(19.4,686.8) rotate(-90)" fill="#000" stroke="#000">Number of GDs</text>
<g fill="none" stroke="#111" stroke-width="1.15">
<rect x="433.5" y="606.4" width="22" height="100"/>
<line x1="455.5" y1="606.4" x2="480.3" y2="590.3"/>
<rect x="1453.5" y="406.4" width="24.7" height="128"/>
<line x1="1453.5" y1="534.4" x2="1418.1" y2="683.7"/>
</g>
<rect x="480.3" y="475.5" width="330.4" height="114.8" fill="#fff" stroke="#4a4a4a" stroke-width="1.25"/>
<rect x="1317.5" y="683.7" width="307" height="108.7" fill="#fff" stroke="#4a4a4a" stroke-width="1.25"/>
<g class="co" fill="#000" stroke="#000">
<text x="490.5" y="501.5" font-weight="bold">1937</text>
<text x="490.5" y="526.3">Slope covered : 99 m (56.5%)</text>
<text x="490.5" y="551.2">Raw nb of GD: 10</text>
<text x="490.5" y="576.2">RCI corrected nb of GD: 17.7</text>
<text x="1327.7" y="706.7" font-weight="bold">1995</text>
<text x="1327.7" y="731.6">Slope covered : 254 m (144%)</text>
<text x="1327.7" y="756.5">Raw nb of GD: 58</text>
<text x="1327.7" y="781.4">RCI corrected nb of GD: 40.3</text>
</g>
<text class="tk" transform="translate(155.5,846.2) rotate(-90)" text-anchor="end" fill="#444" stroke="#444">1920</text>
<text class="tk" transform="translate(243.6,846.2) rotate(-90)" text-anchor="end" fill="#444" stroke="#444">1925</text>
<text class="tk" transform="translate(331.8,846.2) rotate(-90)" text-anchor="end" fill="#444" stroke="#444">1930</text>
<text class="tk" transform="translate(419.9,846.2) rotate(-90)" text-anchor="end" fill="#444" stroke="#444">1935</text>
<text class="tk" transform="translate(508.1,846.2) rotate(-90)" text-anchor="end" fill="#444" stroke="#444">1940</text>
<text class="tk" transform="translate(596.2,846.2) rotate(-90)" text-anchor="end" fill="#444" stroke="#444">1945</text>
<text class="tk" transform="translate(684.4,846.2) rotate(-90)" text-anchor="end" fill="#444" stroke="#444">1950</text>
<text class="tk" transform="translate(772.5,846.2) rotate(-90)" text-anchor="end" fill="#444" stroke="#444">1955</text>
<text class="tk" transform="translate(860.7,846.2) rotate(-90)" text-anchor="end" fill="#444" stroke="#444">1960</text>
<text class="tk" transform="translate(948.8,846.2) rotate(-90)" text-anchor="end" fill="#444" stroke="#444">1965</text>
<text class="tk" transform="translate(1037.0,846.2) rotate(-90)" text-anchor="end" fill="#444" stroke="#444">1970</text>
<text class="tk" transform="translate(1125.2,846.2) rotate(-90)" text-anchor="end" fill="#444" stroke="#444">1975</text>
<text class="tk" transform="translate(1213.3,846.2) rotate(-90)" text-anchor="end" fill="#444" stroke="#444">1980</text>
<text class="tk" transform="translate(1301.5,846.2) rotate(-90)" text-anchor="end" fill="#444" stroke="#444">1985</text>
<text class="tk" transform="translate(1389.6,846.2) rotate(-90)" text-anchor="end" fill="#444" stroke="#444">1990</text>
<text class="tk" transform="translate(1477.8,846.2) rotate(-90)" text-anchor="end" fill="#444" stroke="#444">1995</text>
<text class="tk" transform="translate(1565.9,846.2) rotate(-90)" text-anchor="end" fill="#444" stroke="#444">2000</text>
<text class="tk" transform="translate(1654.0,846.2) rotate(-90)" text-anchor="end" fill="#444" stroke="#444">2005</text>
<text class="tk" transform="translate(1742.2,846.2) rotate(-90)" text-anchor="end" fill="#444" stroke="#444">2010</text>
<text class="tk" transform="translate(1830.3,846.2) rotate(-90)" text-anchor="end" fill="#444" stroke="#444">2015</text>
<text class="tk" transform="translate(1918.5,846.2) rotate(-90)" text-anchor="end" fill="#444" stroke="#444">2020</text>
<text x="1011.4" y="958.1" fill="#000" stroke="#000">Year</text>
</g>
</svg></body></html>
